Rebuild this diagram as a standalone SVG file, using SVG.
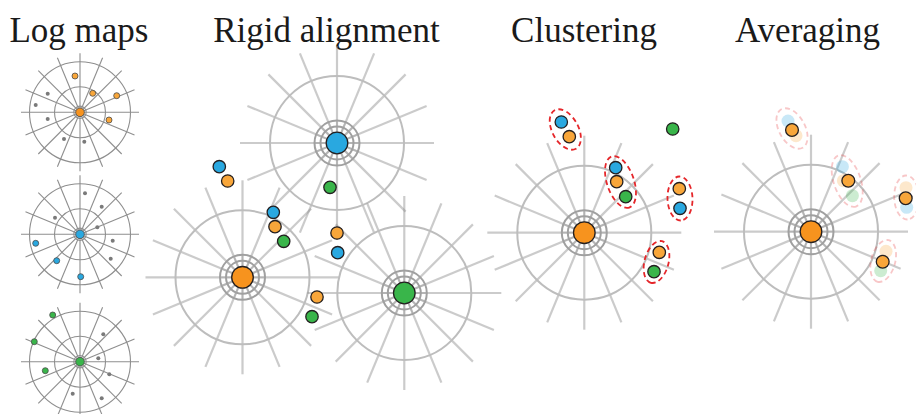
<svg xmlns="http://www.w3.org/2000/svg" xmlns:xlink="http://www.w3.org/1999/xlink" width="916" height="414" viewBox="0 0 916 414">
  <style>
    .title { font-family: "Liberation Serif", "Times New Roman", serif; font-size: 35px; fill: #1a1a1a; text-anchor: middle; }
    .ray { stroke: #8c8c8c; stroke-opacity: 0.45; stroke-width: 2.2; fill: none; }
    .spoke { stroke: #8a8a8a; stroke-opacity: 0.35; stroke-width: 1.8; fill: none; }
    .ring { stroke: #a0a0a0; stroke-width: 2; fill: none; }
    .outer { stroke: #bdbdbd; stroke-width: 2; fill: none; }
    .sray { stroke: #8e8e8e; stroke-width: 1.1; fill: none; }
    .scirc { stroke: #8e8e8e; stroke-width: 1.1; fill: none; }
    .dot { stroke: #231f20; stroke-width: 1.3; }
    .sdot { stroke: #4a4a4a; stroke-width: 0.8; }
    .gdot { fill: #7a7a7a; }
    .or { fill: #f8a63a; }
    .orbig { fill: #f7931e; }
    .bl { fill: #29a8e0; }
    .gr { fill: #39b54a; }
    .clus { fill: none; stroke: #e5262a; stroke-width: 1.8; stroke-dasharray: 5 3.5; }
    .faded { opacity: 0.25; }
  </style>
  <defs>
    <!-- large polar grid, centred on the origin -->
    <g id="bigGrid">
      <g class="ray">
        <line x1="-97" y1="0" x2="97" y2="0"/>
        <line x1="-89.6" y1="-37.1" x2="89.6" y2="37.1"/>
        <line x1="-68.6" y1="-68.6" x2="68.6" y2="68.6"/>
        <line x1="-37.1" y1="-89.6" x2="37.1" y2="89.6"/>
        <line x1="0" y1="-97" x2="0" y2="97"/>
        <line x1="37.1" y1="-89.6" x2="-37.1" y2="89.6"/>
        <line x1="68.6" y1="-68.6" x2="-68.6" y2="68.6"/>
        <line x1="89.6" y1="-37.1" x2="-89.6" y2="37.1"/>
      </g>
      <g class="spoke">
        <line x1="-22" y1="0" x2="22" y2="0"/>
        <line x1="-20.3" y1="-8.4" x2="20.3" y2="8.4"/>
        <line x1="-15.6" y1="-15.6" x2="15.6" y2="15.6"/>
        <line x1="-8.4" y1="-20.3" x2="8.4" y2="20.3"/>
        <line x1="0" y1="-22" x2="0" y2="22"/>
        <line x1="8.4" y1="-20.3" x2="-8.4" y2="20.3"/>
        <line x1="15.6" y1="-15.6" x2="-15.6" y2="15.6"/>
        <line x1="20.3" y1="-8.4" x2="-20.3" y2="8.4"/>
      </g>
      <circle class="outer" r="67"/>
      <circle class="ring" r="16.5"/>
      <circle class="ring" r="22.5"/>
    </g>
    <!-- small log-map grid, centred on the origin -->
    <g id="smallGrid">
      <g class="sray">
        <line x1="-59" y1="0" x2="59" y2="0"/>
        <line x1="-54.5" y1="-22.6" x2="54.5" y2="22.6"/>
        <line x1="-41.7" y1="-41.7" x2="41.7" y2="41.7"/>
        <line x1="-22.6" y1="-54.5" x2="22.6" y2="54.5"/>
        <line x1="0" y1="-59" x2="0" y2="59"/>
        <line x1="22.6" y1="-54.5" x2="-22.6" y2="54.5"/>
        <line x1="41.7" y1="-41.7" x2="-41.7" y2="41.7"/>
        <line x1="54.5" y1="-22.6" x2="-54.5" y2="22.6"/>
      </g>
      <circle class="scirc" r="50.5"/>
      <circle class="scirc" r="25.5"/>
      <circle class="scirc" r="6.2" fill="#fff"/>
    </g>
  </defs>

  <!-- panel titles -->
  <g id="titles">
    <text class="title" x="79" y="42">Log maps</text>
    <text class="title" x="326.5" y="42">Rigid alignment</text>
    <text class="title" x="584" y="42">Clustering</text>
    <text class="title" x="807.5" y="42">Averaging</text>
  </g>

  <!-- log maps: one small grid per shape -->
  <g id="logmap-orange">
    <use xlink:href="#smallGrid" transform="translate(80,112.3)"/>
    <circle class="orbig sdot" cx="80" cy="112.3" r="4.3"/>
    <circle class="or sdot" cx="75" cy="76" r="3"/>
    <circle class="or sdot" cx="92.7" cy="93.3" r="3"/>
    <circle class="or sdot" cx="116.7" cy="95.7" r="3"/>
    <circle class="or sdot" cx="109" cy="120" r="3"/>
    <circle class="gdot" cx="47.7" cy="93.7" r="2"/>
    <circle class="gdot" cx="35.7" cy="105" r="2"/>
    <circle class="gdot" cx="47.7" cy="119" r="2"/>
    <circle class="gdot" cx="64" cy="139" r="2"/>
    <circle class="gdot" cx="84.3" cy="141.7" r="2"/>
  </g>
  <g id="logmap-blue">
    <use xlink:href="#smallGrid" transform="translate(80,234.3)"/>
    <circle class="bl sdot" cx="80" cy="234.3" r="4.3"/>
    <circle class="gdot" cx="85" cy="193.3" r="2"/>
    <circle class="gdot" cx="101.7" cy="206.7" r="2"/>
    <circle class="gdot" cx="55" cy="217.7" r="2"/>
    <circle class="gdot" cx="97.3" cy="227.3" r="2"/>
    <circle class="gdot" cx="112.7" cy="240.7" r="2"/>
    <circle class="gdot" cx="110.7" cy="258.7" r="2"/>
    <circle class="bl sdot" cx="35.7" cy="243.3" r="3"/>
    <circle class="bl sdot" cx="56.7" cy="260.7" r="3"/>
    <circle class="bl sdot" cx="80.7" cy="276.7" r="3"/>
  </g>
  <g id="logmap-green">
    <use xlink:href="#smallGrid" transform="translate(80,361.7)"/>
    <circle class="gr sdot" cx="80" cy="361.7" r="4.3"/>
    <circle class="gr sdot" cx="52.7" cy="315" r="3"/>
    <circle class="gr sdot" cx="34.3" cy="341.7" r="3"/>
    <circle class="gr sdot" cx="45.3" cy="370.7" r="3"/>
    <circle class="gdot" cx="103.3" cy="334.3" r="2"/>
    <circle class="gdot" cx="98.3" cy="358.3" r="2"/>
    <circle class="gdot" cx="109.3" cy="374.3" r="2"/>
    <circle class="gdot" cx="72.7" cy="393.7" r="2"/>
    <circle class="gdot" cx="101.7" cy="398.3" r="2"/>
  </g>

  <!-- rigid alignment: three grids placed relative to each other -->
  <g id="rigid">
    <g id="rigid-grids">
      <use xlink:href="#bigGrid" transform="translate(337,143)"/>
      <use xlink:href="#bigGrid" transform="translate(242.5,277.3)"/>
      <use xlink:href="#bigGrid" transform="translate(404.3,293)"/>
    </g>
    <circle id="rigid-blue" class="bl dot" cx="337" cy="143" r="10.8"/>
    <circle id="rigid-orange" class="orbig dot" cx="242.5" cy="277.3" r="10.8"/>
    <circle id="rigid-green" class="gr dot" cx="404.3" cy="293" r="10.8"/>
    <g id="rigid-points">
      <circle class="bl dot" cx="219.3" cy="166.7" r="6.2"/>
      <circle class="or dot" cx="227.7" cy="181" r="6.2"/>
      <circle class="gr dot" cx="330" cy="187.3" r="6.2"/>
      <circle class="bl dot" cx="273.3" cy="212.3" r="6.2"/>
      <circle class="or dot" cx="275" cy="226.7" r="6.2"/>
      <circle class="gr dot" cx="283.7" cy="241.3" r="6.2"/>
      <circle class="or dot" cx="337" cy="233" r="6.2"/>
      <circle class="bl dot" cx="337.7" cy="252.7" r="6.2"/>
      <circle class="or dot" cx="317" cy="297" r="6.2"/>
      <circle class="gr dot" cx="312" cy="316.7" r="6.2"/>
    </g>
  </g>

  <!-- clustering -->
  <g id="clustering">
    <use xlink:href="#bigGrid" transform="translate(584.3,232.7)"/>
    <circle class="orbig dot" cx="584.3" cy="232.7" r="10.8"/>
    <g id="clusters">
      <ellipse class="clus" cx="565.3" cy="129.5" rx="22" ry="13" transform="rotate(61 565.3 129.5)"/>
      <ellipse class="clus" cx="620.5" cy="182" rx="27" ry="13.5" transform="rotate(71 620.5 182)"/>
      <ellipse class="clus" cx="680" cy="198.5" rx="22" ry="12.5" transform="rotate(88 680 198.5)"/>
      <ellipse class="clus" cx="656.5" cy="262" rx="21.5" ry="12" transform="rotate(105 656.5 262)"/>
    </g>
    <g id="cluster-points">
      <circle class="bl dot" cx="561.3" cy="122" r="6.2"/>
      <circle class="or dot" cx="569.3" cy="136.7" r="6.2"/>
      <circle class="gr dot" cx="672.7" cy="129" r="6.2"/>
      <circle class="bl dot" cx="615.7" cy="167.7" r="6.2"/>
      <circle class="or dot" cx="616.7" cy="181.7" r="6.2"/>
      <circle class="gr dot" cx="625.7" cy="196.7" r="6.2"/>
      <circle class="or dot" cx="679.3" cy="188.7" r="6.2"/>
      <circle class="bl dot" cx="680" cy="208.3" r="6.2"/>
      <circle class="or dot" cx="659.3" cy="252.3" r="6.2"/>
      <circle class="gr dot" cx="654" cy="271.7" r="6.2"/>
    </g>
  </g>

  <!-- averaging: same layout, members faded, cluster means on top -->
  <g id="averaging">
    <use xlink:href="#bigGrid" transform="translate(811,231.7)"/>
    <circle class="orbig dot" cx="811" cy="231.7" r="10.8"/>
    <g class="faded" transform="translate(226.7,-1)">
      <ellipse class="clus" cx="565.3" cy="129.5" rx="22" ry="13" transform="rotate(61 565.3 129.5)"/>
      <ellipse class="clus" cx="620.5" cy="182" rx="27" ry="13.5" transform="rotate(71 620.5 182)"/>
      <ellipse class="clus" cx="680" cy="198.5" rx="22" ry="12.5" transform="rotate(88 680 198.5)"/>
      <ellipse class="clus" cx="656.5" cy="262" rx="21.5" ry="12" transform="rotate(105 656.5 262)"/>
      <circle class="bl" cx="561.3" cy="122" r="6.5"/>
      <circle class="or" cx="569.3" cy="136.7" r="6.5"/>
      <circle class="bl" cx="615.7" cy="167.7" r="6.5"/>
      <circle class="or" cx="616.7" cy="181.7" r="6.5"/>
      <circle class="gr" cx="625.7" cy="196.7" r="6.5"/>
      <circle class="or" cx="679.3" cy="188.7" r="6.5"/>
      <circle class="bl" cx="680" cy="208.3" r="6.5"/>
      <circle class="or" cx="659.3" cy="252.3" r="6.5"/>
      <circle class="gr" cx="654" cy="271.7" r="6.5"/>
    </g>
    <g id="means">
      <circle class="or dot" cx="792" cy="130" r="6.4"/>
      <circle class="or dot" cx="848.3" cy="180.7" r="6.4"/>
      <circle class="or dot" cx="905.7" cy="198.3" r="6.4"/>
      <circle class="or dot" cx="882.7" cy="261.7" r="6.4"/>
    </g>
  </g>
</svg>
